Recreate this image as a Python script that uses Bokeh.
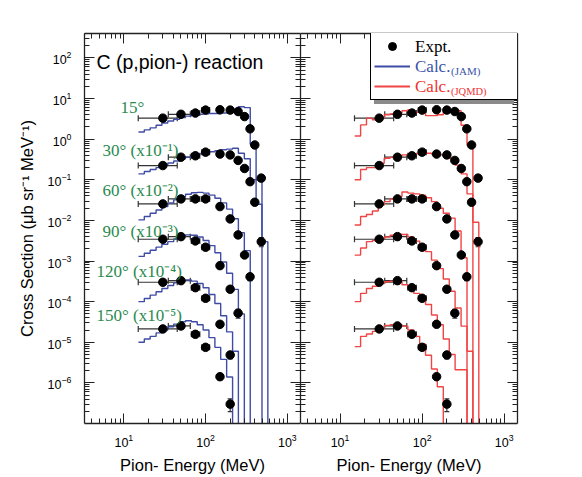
from bokeh.plotting import figure
from bokeh.models import (LogAxis, FixedTicker, ColumnDataSource, Whisker, TeeHead,
                          Label, Range1d, CustomJSTickFormatter, Legend, LegendItem)
from bokeh.layouts import row
from bokeh.embed import file_html
from bokeh.resources import INLINE

# ---------------- data ----------------
# histogram bin edges (MeV) used by both calculations
bin_edges = [15.1, 17.8, 21.0, 24.8, 29.2, 34.5, 40.7, 48.1, 56.8, 67.0, 79.1, 93.3,
             110, 130, 153, 181, 214, 252, 298, 352, 415, 490, 578]

angles = ["15", "30", "60", "90", "120", "150"]
scale_exp = [0, -1, -2, -3, -4, -5]          # displayed = value * 10**scale_exp

# experimental energies (MeV)
energies = [30, 50, 75, 100, 150, 200, 250, 300, 350, 400, 480]
exp_xlo = [15, 35, 67, 90]                   # horizontal bars of the first four points
exp_xhi = [45, 65, 85, 112]

# experimental cross sections (unscaled, ub/sr/MeV)
exp_15 = [3.3, 4.1, 4.4, 5.2, 5.3, 5.2, 4.8, 3.6, 1.8, 0.72, 0.11]
exp_30 = [2.24, 3.6, 3.9, 4.8, 4.3, 4.1, 3.0, 1.9, 0.90, 0.28, 0.030]
exp_60 = [2.55, 3.39, 3.39, 3.39, 2.19, 1.09, 0.44, 0.141, 0.041]
exp_90 = [3.44, 3.99, 3.13, 2.19, 0.77, 0.202, 0.052]
exp_120 = [3.0, 3.29, 2.21, 1.21, 0.277, 0.0487]
exp_150 = [2.13, 2.52, 1.57, 0.75, 0.142, 0.030]

# relative vertical errors
err_15 = [0.05, 0.05, 0.05, 0.05, 0.05, 0.05, 0.05, 0.05, 0.05, 0.06, 0.10]
err_30 = [0.05, 0.05, 0.05, 0.05, 0.05, 0.05, 0.05, 0.05, 0.06, 0.10, 0.25]
err_60 = [0.05, 0.05, 0.05, 0.05, 0.05, 0.05, 0.05, 0.10, 0.20]
err_90 = [0.05, 0.05, 0.05, 0.05, 0.05, 0.10, 0.25]
err_120 = [0.05, 0.05, 0.05, 0.05, 0.10, 0.20]
err_150 = [0.05, 0.05, 0.05, 0.05, 0.15, 0.35]

# JAM calculation (unscaled), one value per bin
jam_15 = [1.5, 1.7, 1.9, 2.2, 2.5, 2.8, 3.1, 3.4, 3.7, 3.9, 4.1, 4.2, 4.3, 4.3, 4.4, 4.4, 4.7, 6.3, 6.0, 0.75, 0.1, 0.003]
jam_30 = [1.4, 1.6, 1.8, 2.0, 2.3, 2.6, 2.9, 3.3, 3.6, 4.0, 4.3, 4.6, 4.9, 5.2, 5.5, 5.7, 6.0, 4.5, 3.3, 1.0, 0.25, 0]
jam_60 = [1.03, 1.25, 1.5, 1.8, 2.2, 2.7, 3.2, 3.8, 4.4, 4.8, 4.9, 4.7, 4.2, 3.5, 2.7, 1.9, 1.1, 0.5, 0.18, 0, 0, 0]
jam_90 = [1.3, 1.55, 1.85, 2.2, 2.6, 3.0, 3.5, 4.0, 4.4, 4.3, 3.9, 3.2, 2.4, 1.6, 0.95, 0.5, 0.2, 0.05, 0, 0, 0, 0]
jam_120 = [1.0, 1.2, 1.45, 1.75, 2.1, 2.5, 2.9, 3.2, 3.4, 3.2, 2.8, 2.2, 1.5, 0.9, 0.45, 0.18, 0.06, 0, 0, 0, 0, 0]
jam_150 = [1.0, 1.2, 1.4, 1.7, 2.0, 2.4, 2.8, 3.2, 3.4, 3.2, 2.7, 2.0, 1.3, 0.75, 0.38, 0.14, 0, 0, 0, 0, 0, 0]

# JQMD calculation (unscaled), one value per bin
jqmd_15 = [1.2, 2.25, 3.3, 3.0, 3.4, 4.0, 4.2, 4.4, 5.0, 5.3, 4.6, 4.6, 3.8, 3.8, 4.0, 4.8, 5.3, 5.0, 2.2, 0.72, 0.009, 0]
jqmd_30 = [1.0, 1.8, 2.0, 2.0, 2.56, 3.4, 3.6, 3.7, 4.1, 4.3, 4.4, 4.5, 4.5, 4.3, 4.1, 3.9, 3.4, 2.3, 1.4, 0.45, 0, 0]
jqmd_60 = [0.77, 1.25, 1.4, 1.7, 2.4, 2.9, 3.4, 3.9, 5.0, 4.7, 4.5, 4.2, 3.6, 2.9, 2.0, 1.5, 1.14, 0.55, 0.12, 0, 0, 0]
jqmd_90 = [1.4, 2.1, 3.0, 3.2, 3.5, 3.9, 4.3, 4.6, 4.5, 3.9, 3.1, 2.4, 1.7, 1.05, 0.65, 0.36, 0.18, 0.07, 0.025, 0.006, 0, 0]
jqmd_120 = [1.0, 1.6, 2.1, 2.4, 2.8, 3.1, 3.2, 3.3, 2.6, 2.2, 1.6, 1.2, 0.85, 0.47, 0.27, 0.12, 0.05, 0.021, 0.021, 0, 0, 0]
jqmd_150 = [0.78, 1.4, 1.6, 1.85, 2.2, 2.6, 2.7, 2.7, 2.5, 2.0, 1.4, 0.9, 0.48, 0.22, 0.08, 0, 0, 0, 0, 0, 0, 0]

x_major = [10, 100, 1000]
y_major = [1e-6, 1e-5, 1e-4, 1e-3, 1e-2, 1e-1, 1, 10, 100]

exp_sets = [exp_15, exp_30, exp_60, exp_90, exp_120, exp_150]
err_sets = [err_15, err_30, err_60, err_90, err_120, err_150]
jam_sets = [jam_15, jam_30, jam_60, jam_90, jam_120, jam_150]
jqmd_sets = [jqmd_15, jqmd_30, jqmd_60, jqmd_90, jqmd_120, jqmd_150]

angle_texts = ["15°", "30° (x10⁻¹)", "60° (x10⁻²)", "90° (x10⁻³)", "120° (x10⁻⁴)", "150° (x10⁻⁵)"]

# ---------------- styles ----------------
BLUE = "#3f4ca5"
RED = "#f04545"
GREEN = "#2a8a4e"
AX = "#222222"
SANS = "Liberation Sans"
SERIF = "Liberation Serif"
FLOOR = 1e-12

x_minor = [k * 10 ** e for e in range(0, 4) for k in range(2, 10)]
y_minor = [k * 10.0 ** e for e in range(-7, 3) for k in range(2, 10)]


def make_axis(ticks, minor, labels, axis_label=None, vertical=False):
    ax = LogAxis(ticker=FixedTicker(ticks=ticks, minor_ticks=minor))
    ax.major_tick_in = 10
    ax.major_tick_out = 0
    ax.minor_tick_in = 5
    ax.minor_tick_out = 0
    ax.axis_line_color = AX
    ax.axis_line_width = 1.3
    ax.major_tick_line_color = AX
    ax.minor_tick_line_color = AX
    if labels:
        ax.major_label_text_font = SANS
        ax.major_label_text_font_size = "12.5px"
        ax.major_label_text_color = "black"
        ax.major_label_standoff = 13 if vertical else 10
    else:
        ax.formatter = CustomJSTickFormatter(code="return ''")
        ax.major_label_standoff = 0
    if axis_label:
        ax.axis_label = axis_label
        ax.axis_label_text_font = SANS
        ax.axis_label_text_font_size = "16.5px"
        ax.axis_label_text_font_style = "normal"
        ax.axis_label_text_color = "black"
        ax.axis_label_standoff = 9 if vertical else 6
    return ax


def make_fig(w, mbl, mbr, ylabels):
    p = figure(width=w, height=477, x_axis_type="log", y_axis_type="log",
               x_range=Range1d(3.3, 1450), y_range=Range1d(1e-7, 4e2),
               x_axis_location=None, y_axis_location=None,
               toolbar_location=None, output_backend="svg",
               min_border_left=mbl, min_border_right=mbr,
               min_border_top=33, min_border_bottom=54)
    p.grid.visible = False
    p.outline_line_color = None
    p.background_fill_color = "white"
    p.border_fill_color = "white"
    p.add_layout(make_axis(x_major, x_minor, True, "Pion- Energy (MeV)"), "below")
    p.add_layout(make_axis(x_major, x_minor, False), "above")
    if ylabels:
        p.add_layout(make_axis(y_major, y_minor, True, "Cross Section (μb sr⁻¹ MeV⁻¹)",
                               vertical=True), "left")
    else:
        p.add_layout(make_axis(y_major, y_minor, False), "left")
    p.add_layout(make_axis(y_major, y_minor, False), "right")
    return p


def hist_y(vals, s):
    ys = [v * s if v > 0 else FLOOR for v in vals]
    return ys + [FLOOR]


def draw_exp(p):
    rend = None
    for vals, errs, se in zip(exp_sets, err_sets, scale_exp):
        s = 10.0 ** se
        e = energies[:len(vals)]
        y = [v * s for v in vals]
        src = ColumnDataSource(dict(x=e, y=y,
                                    ylo=[v * (1 - f) for v, f in zip(y, errs)],
                                    yhi=[v * (1 + f) for v, f in zip(y, errs)]))
        hsrc = ColumnDataSource(dict(y=y[:len(exp_xlo)], xlo=exp_xlo, xhi=exp_xhi))
        p.add_layout(Whisker(source=hsrc, base="y", lower="xlo", upper="xhi", dimension="width",
                             line_color="#333333", line_width=1.2,
                             lower_head=TeeHead(size=6, line_color="#333333", line_width=1.2),
                             upper_head=TeeHead(size=6, line_color="#333333", line_width=1.2)))
        p.add_layout(Whisker(source=src, base="x", lower="ylo", upper="yhi", dimension="height",
                             line_color="#333333", line_width=1.2,
                             lower_head=TeeHead(size=5, line_color="#333333", line_width=1.2),
                             upper_head=TeeHead(size=5, line_color="#333333", line_width=1.2)))
        rend = p.scatter(x="x", y="y", source=src, size=8.5, color="black")
    return rend


# ---------------- left panel (JAM) ----------------
left = make_fig(300, 84, 0, True)
for vals, se in zip(jam_sets, scale_exp):
    left.step(x=bin_edges, y=hist_y(vals, 10.0 ** se), mode="after",
              line_color=BLUE, line_width=1.4)
draw_exp(left)

left.add_layout(Label(x=12, y=362, x_units="screen", y_units="screen",
                      text="C (p,pion-) reaction", text_font=SANS, text_font_size="19.5px",
                      text_color="black", text_baseline="alphabetic"))
label_pos = [(36, 316), (18, 273), (18, 233), (18, 192), (12, 152), (12, 108)]
for (lx, ly), t in zip(label_pos, angle_texts):
    left.add_layout(Label(x=lx, y=ly, x_units="screen", y_units="screen", text=t,
                          text_font=SERIF, text_font_size="17px", text_color=GREEN,
                          text_baseline="middle", text_align="left"))

# ---------------- right panel (JQMD) ----------------
right = make_fig(282, 0, 65, False)
for vals, se in zip(jqmd_sets, scale_exp):
    right.step(x=bin_edges, y=hist_y(vals, 10.0 ** se), mode="after",
               line_color=RED, line_width=1.4)
dot_r = draw_exp(right)

# legend sample renderers: lie entirely below the visible window, used only for the key
key_y = [FLOOR] * len(bin_edges)
jam_key = right.step(x=bin_edges, y=key_y, mode="after", line_color=BLUE, line_width=2.2)
jqmd_key = right.step(x=bin_edges, y=key_y, mode="after", line_color=RED, line_width=2.2)
ghost = right.step(x=bin_edges, y=key_y, mode="after", line_alpha=0)

# legend box in the top-right corner of the panel (annotations are clipped to the panel)
box_kw = dict(padding=3, spacing=0, glyph_width=36, glyph_height=20, label_height=20,
              label_width=99, label_standoff=5, label_text_font_size="12px")
shadow = Legend(items=[LegendItem(label=" ", renderers=[ghost]) for _ in range(3)],
                location=(74, 319), background_fill_color="#8a8a8a",
                background_fill_alpha=1.0, border_line_color=None, **box_kw)
box = Legend(items=[LegendItem(label=" ", renderers=[dot_r]),
                    LegendItem(label=" ", renderers=[jam_key]),
                    LegendItem(label=" ", renderers=[jqmd_key])],
             location=(70, 323), background_fill_color="white", background_fill_alpha=1.0,
             border_line_color="black", border_line_width=1.5, border_line_alpha=1.0, **box_kw)
right.add_layout(shadow)
right.add_layout(box)

legend_texts = [("Expt.", "black", "17px", 114, 376),
                ("Calc.", "#3a55a8", "17px", 114, 356),
                ("(JAM)", "#3a55a8", "11px", 150, 352),
                ("Calc.", "#ee3333", "17px", 114, 336),
                ("(JQMD)", "#ee3333", "10.5px", 150, 332)]
for txt, col, fs, tx, ty in legend_texts:
    right.add_layout(Legend(items=[LegendItem(label=txt, renderers=[ghost])],
                            location=(tx, ty - 10), padding=0, spacing=0, glyph_width=1,
                            glyph_height=20, label_height=20, label_standoff=0,
                            label_text_font=SERIF, label_text_font_size=fs,
                            label_text_color=col, background_fill_alpha=0.0,
                            border_line_alpha=0.0))

layout = row(left, right)
open("out.html", "w").write(file_html(layout, INLINE))
